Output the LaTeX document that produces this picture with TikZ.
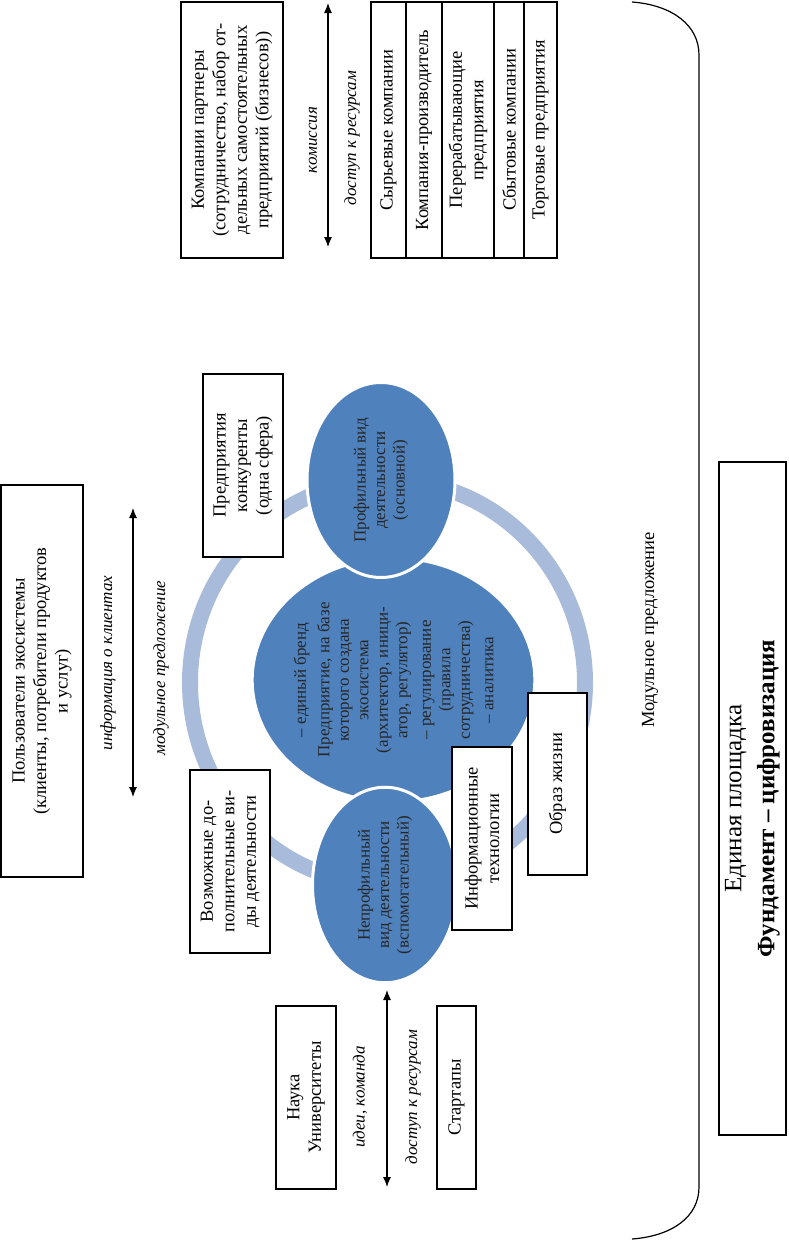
\documentclass[tikz,border=0pt]{standalone}
\usepackage{fontspec}
\setmainfont{Liberation Serif}
\usetikzlibrary{arrows.meta,shapes}

\definecolor{ringblue}{HTML}{A9BBDB}
\definecolor{circblue}{HTML}{4F81BD}

\begin{document}
\begin{tikzpicture}[x=1pt,y=-1pt]
\tikzstyle{box}=[draw, line width=1.2pt, fill=white, rotate=90, align=center, inner sep=2pt, font=\fontsize{18.5}{21.5}\selectfont]
\tikzstyle{cell}=[draw, line width=1.2pt, fill=white, rotate=90, align=center, inner sep=1pt, minimum width=256pt, font=\fontsize{18.5}{21.5}\selectfont]
\tikzstyle{blob}=[ellipse, fill=circblue, draw=white, line width=3pt, rotate=90, align=center, inner sep=0pt, text=black!85, font=\fontsize{17}{19.5}\selectfont]
\tikzstyle{lab}=[rotate=90, inner sep=0pt, font=\itshape\fontsize{17}{20}\selectfont]
\tikzstyle{twoway}=[{Latex[length=10pt,width=8pt]}-{Latex[length=10pt,width=8pt]}, line width=1.1pt]
\useasboundingbox (0,0) rectangle (788,1242);

\draw[ringblue, line width=16pt] (387.5,682.5) ellipse [x radius=197.5, y radius=202.5];

\draw (393.5,680) node[blob, minimum width=244pt, minimum height=244pt] (core) {– единый бренд\\[4pt]Предприятие, на базе\\которого создана\\экосистема\\(архитектор, иници-\\атор, регулятор)\\[4pt]– регулирование\\(правила\\сотрудничества)\\[4pt]– аналитика};
\draw (381,480) node[blob, minimum width=195pt, minimum height=148pt] (main) {Профильный вид\\деятельности\\(основной)};
\draw (385,885) node[blob, minimum width=190pt, minimum height=145pt] (aux) {Непрофильный\\вид деятельности\\(вспомогательный)};

\draw (232,130) node[box, minimum width=256pt, minimum height=102pt] (partners) {Компании партнеры\\(сотрудничество, набор от-\\дельных самостоятельных\\предприятий (бизнесов))};
\draw (388.5,130) node[cell, minimum height=35pt] (raw) {Сырьевые компании};
\draw (424,130) node[cell, minimum height=36pt] (maker) {Компания-производитель};
\draw (468,130) node[cell, minimum height=52pt] (proc) {Перерабатывающие\\предприятия};
\draw (509,130) node[cell, minimum height=30pt] (sales) {Сбытовые компании};
\draw (540.5,130) node[cell, minimum height=33pt] (trade) {Торговые предприятия};

\draw (42,681) node[box, minimum width=392pt, minimum height=82pt] (users) {Пользователи экосистемы\\(клиенты, потребители продуктов\\и услуг)};
\draw (243,465.5) node[box, minimum width=183pt, minimum height=80pt] (rivals) {Предприятия\\конкуренты\\(одна сфера)};
\draw (230,861.5) node[box, minimum width=183pt, minimum height=80pt] (extra) {Возможные до-\\полнительные ви-\\ды деятельности};
\draw (482,838.5) node[box, minimum width=183pt, minimum height=60pt] (it) {Информационные\\технологии};
\draw (557.5,784) node[box, minimum width=182pt, minimum height=59pt] (life) {Образ жизни};
\draw (306,1097.5) node[box, minimum width=183pt, minimum height=60pt] (science) {Наука\\Университеты};
\draw (456.5,1097.5) node[box, minimum width=183pt, minimum height=39pt] (startups) {Стартапы};
\draw (752.5,798.5) node[box, minimum width=673pt, minimum height=67pt, font=\fontsize{25}{33}\selectfont] (base) {Единая площадка\\\textbf{Фундамент – цифровизация}};

\coordinate (pa) at (328,3);
\coordinate (pb) at (328,247);
\draw[twoway] (pa) -- (pb);
\coordinate (ua) at (133,508);
\coordinate (ub) at (133,797);
\draw[twoway] (ua) -- (ub);
\coordinate (sa) at (387,990);
\coordinate (sb) at (387,1187);
\draw[twoway] (sa) -- (sb);

\draw (313,140) node[lab] (fee) {комиссия};
\draw (352,138) node[lab] (access1) {доступ к ресурсам};
\draw (108,663) node[lab] (info) {информация о клиентах};
\draw (161,668) node[lab] (offer) {модульное предложение};
\draw (360,1097) node[lab] (ideas) {идеи, команда};
\draw (413,1097) node[lab] (access2) {доступ к ресурсам};

\draw (650,630) node[rotate=90, font=\fontsize{18.5}{21.5}\selectfont] (modular) {Модульное предложение};

\draw[line width=1.2pt] (632,2) .. controls (672,5) and (699,25) .. (699,55) -- (699,1187) .. controls (699,1217) and (672,1236) .. (632,1239);
\end{tikzpicture}
\end{document}
